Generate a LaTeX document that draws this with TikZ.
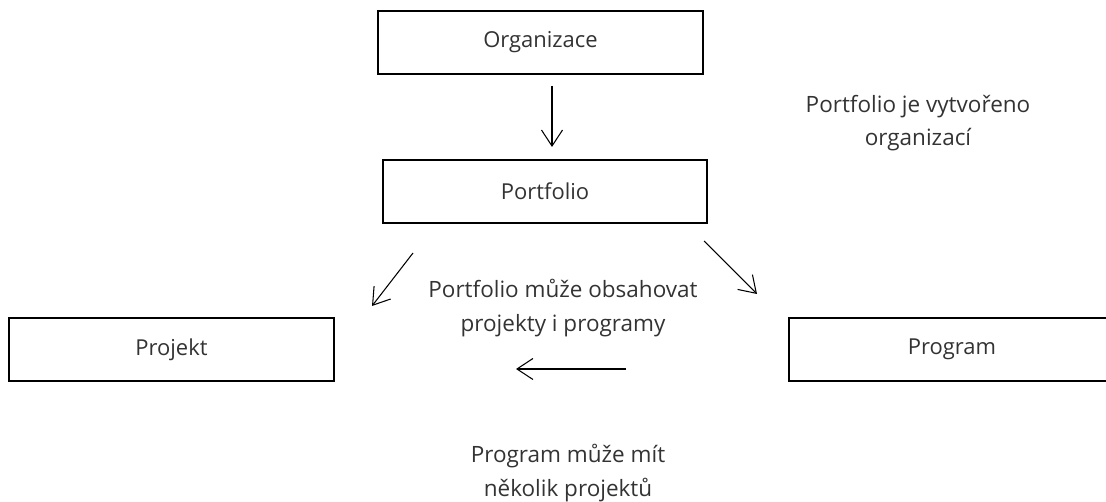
\documentclass[tikz,border=0pt]{standalone}
\usepackage{fontspec}
\setmainfont{Open Sans}
\usetikzlibrary{arrows.meta,positioning}

\begin{document}
\begin{tikzpicture}[x=0.02cm,y=-0.02cm,>={Straight Barb[length=3.2mm,width=4.2mm]},thin]
\tikzstyle{box}=[draw,line width=1.4pt,inner sep=0pt,minimum height=1.25cm,text=black!80,font=\fontsize{12.5}{16}\selectfont]
\tikzstyle{note}=[align=center,text=black!80,font=\fontsize{12.8}{19}\selectfont]
\tikzstyle{link}=[->,line width=0.6pt]

\useasboundingbox (0,0) rectangle (1106,502);

\node[box,minimum width=6.5cm]    (org)  at (540.5,42.5)  {Organizace};
\node[box,minimum width=6.48cm]   (port) at (545,191.5)   {Portfolio};
\node[box,minimum width=6.5cm]    (proj) at (171.5,349.5) {Projekt};
\node[box,minimum width=6.52cm]   (prog) at (952,349.5)   {Program};

\node[note] (n1) at (918,123) {Portfolio je vytvořeno\\organizací};
\node[note] (n2) at (563,308) {Portfolio může obsahovat\\projekty i programy};
\node[note] (n3) at (568,473) {Program může mít\\několik projektů};

\coordinate (a1) at (552,86);  \coordinate (b1) at (552,147);
\coordinate (a2) at (413,253); \coordinate (b2) at (372,306);
\coordinate (a3) at (704,241); \coordinate (b3) at (757,294);
\coordinate (a4) at (626,369); \coordinate (b4) at (516,369);

\path
(a1) edge[link] (b1)
(a2) edge[link] (b2)
(a3) edge[link] (b3)
(a4) edge[link] (b4);
\end{tikzpicture}
\end{document}
